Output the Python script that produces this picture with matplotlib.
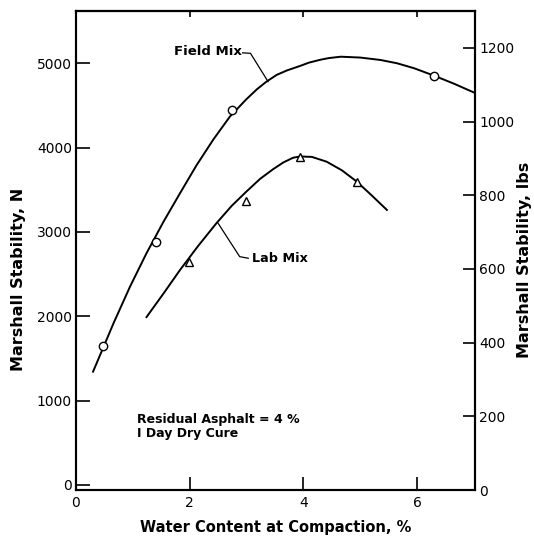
import matplotlib
matplotlib.use("Agg")
import matplotlib.pyplot as plt

# field mix: measured points and the drawn curve
field_x = [0.47, 1.41, 2.75, 6.30]
field_y = [1648, 2885, 4446, 4853]
field_curve_x = [0.30, 0.66, 0.95, 1.24, 1.54, 1.83, 2.12, 2.42, 2.71, 3.00, 3.18, 3.35,
                 3.53, 3.71, 3.94, 4.10, 4.30, 4.45, 4.66, 5.00, 5.36, 5.65, 5.95, 6.30,
                 6.65, 7.01]
field_curve_y = [1343, 1917, 2351, 2747, 3122, 3459, 3790, 4100, 4370, 4575, 4690, 4782,
                 4862, 4915, 4968, 5008, 5042, 5062, 5078, 5068, 5039, 5000, 4941, 4853,
                 4758, 4651]

# lab mix
lab_x = [1.99, 2.99, 3.94, 4.94]
lab_y = [2648, 3367, 3885, 3589]
lab_curve_x = [1.24, 1.55, 1.83, 2.15, 2.47, 2.74, 3.00, 3.24, 3.47, 3.65, 3.82, 3.94,
               4.15, 4.41, 4.68, 4.94, 5.20, 5.47]
lab_curve_y = [1990, 2280, 2549, 2835, 3103, 3310, 3480, 3630, 3745, 3825, 3880, 3895,
               3890, 3833, 3730, 3597, 3435, 3261]

x_ticks = [0, 2, 4, 6]
n_ticks = [0, 1000, 2000, 3000, 4000, 5000]
lbs_ticks = [0, 200, 400, 600, 800, 1000, 1200]

fig = plt.figure(figsize=(5.34, 5.4), dpi=100)
ax = fig.add_axes([76 / 534, 50 / 540, 399 / 534, 479 / 540])

ax.plot(field_curve_x, field_curve_y, color="black", lw=1.4, solid_joinstyle="round")
ax.plot(field_x, field_y, "o", ms=6, mfc="white", mec="black", mew=1.0)
ax.plot(lab_curve_x, lab_curve_y, color="black", lw=1.4, solid_joinstyle="round")
ax.plot(lab_x, lab_y, "^", ms=5.5, mfc="white", mec="black", mew=1.0)

ax.set_xlim(0, 7.02)
ax.set_ylim(-60, 5620)

# leader lines to the labels
ax.plot([2.93, 3.07, 3.38], [5124, 5118, 4782], color="black", lw=0.9)
ax.text(2.91, 5140, "Field Mix", ha="right", va="center", fontsize=9.5, fontweight="bold")
ax.plot([2.50, 2.88, 3.03], [3103, 2707, 2688], color="black", lw=0.9)
ax.text(3.10, 2688, "Lab Mix", ha="left", va="center", fontsize=9.2, fontweight="bold")

ax.text(1.07, 771, "Residual Asphalt = 4 %", ha="left", va="center", fontsize=9, fontweight="bold")
ax.text(1.07, 613, "I Day Dry Cure", ha="left", va="center", fontsize=9, fontweight="bold")

for s in ax.spines.values():
    s.set_linewidth(1.5)

ax.set_xticks(x_ticks)
ax.set_yticks(n_ticks)
ax.tick_params(axis="x", direction="in", length=9.5, width=1.2, labelsize=10, pad=4)
ax.tick_params(axis="y", direction="in", length=10, width=1.2, labelsize=10, pad=3)

# short ticks along the top
top = ax.secondary_xaxis("top")
top.set_xticks(x_ticks[1:], labels=[])
top.tick_params(direction="in", length=4.5, width=1.2)
top.spines["top"].set_linewidth(1.5)

ax2 = ax.twinx()
ax2.set_ylim(0, 1300)
ax2.set_yticks(lbs_ticks)
ax2.tick_params(axis="y", direction="in", length=9, width=1.2, labelsize=10, pad=3)
for s in ax2.spines.values():
    s.set_linewidth(1.5)

ax.set_ylabel("Marshall Stability, N", fontsize=11.5, fontweight="bold")
ax.yaxis.set_label_coords(-0.125, 0.44)
ax2.set_ylabel("Marshall Stability, lbs", fontsize=11.5, fontweight="bold")
ax2.yaxis.set_label_coords(1.105, 0.48)
ax.set_xlabel("Water Content at Compaction, %", fontsize=10.5, fontweight="bold")
ax.xaxis.set_label_coords(0.5, -0.062)

fig.savefig("out.png", dpi=100)
